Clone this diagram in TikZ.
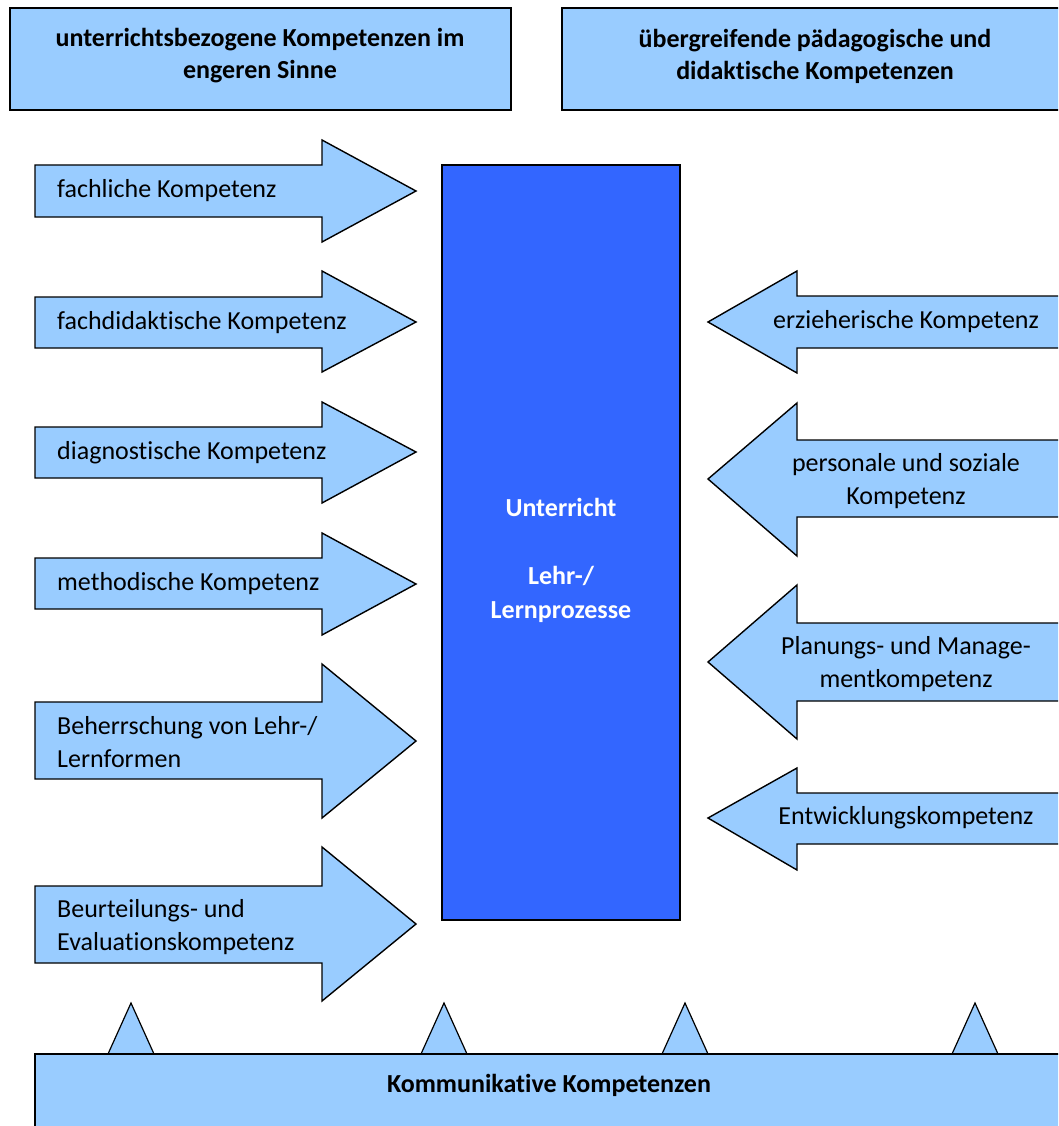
\documentclass[tikz,border=0pt]{standalone}
\usepackage{fontspec}
\setmainfont[Ligatures=NoCommon]{Carlito}
\definecolor{paleblue}{HTML}{99CCFF}
\definecolor{corebg}{HTML}{3366FF}
\begin{document}
\begin{tikzpicture}[x=1pt,y=-1pt,
  shapeline/.style={draw=black,line width=1.4pt,line join=miter,fill=paleblue},
  headtxt/.style={font=\fontsize{26}{32}\selectfont\bfseries,align=center,inner sep=0pt},
  lefttxt/.style={font=\fontsize{26}{33}\selectfont,align=left,anchor=west,inner sep=0pt},
  righttxt/.style={font=\fontsize{26}{33}\selectfont,align=center,inner sep=0pt}]
\useasboundingbox (0,0) rectangle (1058,1126);
\clip (0,0) rectangle (1058,1126);

% header boxes
\draw[shapeline] (10,8) rectangle (511,110);
\draw[shapeline] (562,8) rectangle (1075,110);
\node[headtxt] (hleft) at (260,56) {unterrichtsbezogene Kompetenzen im\\engeren Sinne};
\node[headtxt] (hright) at (815,56) {übergreifende pädagogische und\\didaktische Kompetenzen};

% central block
\draw[draw=black,line width=1.4pt,fill=corebg] (442,165) rectangle (680,920);
\node[font=\fontsize{26}{34}\selectfont\bfseries,text=white,align=center,inner sep=0pt]
  (core) at (561,560) {Unterricht\\[34pt]Lehr-/\\Lernprozesse};

% arrows pointing right: shaft top, shaft bottom, head top, head bottom, tip y
\foreach \st/\sb/\ht/\hb/\ty in {165/217/140/242/191, 297/348/271/372/322,
    427/478/402/503/452, 558/609/533/635/584, 702/779/664/818/741,
    886/963/847/1001/924}{
  \draw[shapeline] (35,\st) -- (322,\st) -- (322,\ht) -- (416,\ty)
    -- (322,\hb) -- (322,\sb) -- (35,\sb) -- cycle;
}
\node[lefttxt] (l1) at (57,191) {fachliche Kompetenz};
\node[lefttxt] (l2) at (57,323) {fachdidaktische Kompetenz};
\node[lefttxt] (l3) at (57,453) {diagnostische Kompetenz};
\node[lefttxt] (l4) at (57,584) {methodische Kompetenz};
\node[lefttxt] (l5) at (57,742) {Beherrschung von Lehr-/\\Lernformen};
\node[lefttxt] (l6) at (57,927) {Beurteilungs- und\\Evaluationskompetenz};

% arrows pointing left
\foreach \st/\sb/\ht/\hb/\ty in {296/348/271/373/322, 440/517/403/556/479,
    623/701/585/739/662, 793/844/768/870/818}{
  \draw[shapeline] (1075,\st) -- (797,\st) -- (797,\ht) -- (708,\ty)
    -- (797,\hb) -- (797,\sb) -- (1075,\sb) -- cycle;
}
\node[righttxt] (r1) at (906,322) {erzieherische Kompetenz};
\node[righttxt] (r2) at (906,481) {personale und soziale\\Kompetenz};
\node[righttxt] (r3) at (906,664) {Planungs- und Manage-\\mentkompetenz};
\node[righttxt] (r4) at (906,818) {Entwicklungskompetenz};

% base bar with its spikes
\foreach \cx in {131,444,685,975}{
  \draw[draw=black,line width=1.2pt,fill=paleblue] (\cx-23,1054) -- (\cx,1003) -- (\cx+23,1054) -- cycle;
}
\draw[shapeline] (35,1054) rectangle (1075,1140);
\node[font=\fontsize{26}{32}\selectfont\bfseries,inner sep=0pt] (base) at (549,1085) {Kommunikative Kompetenzen};
\end{tikzpicture}
\end{document}
